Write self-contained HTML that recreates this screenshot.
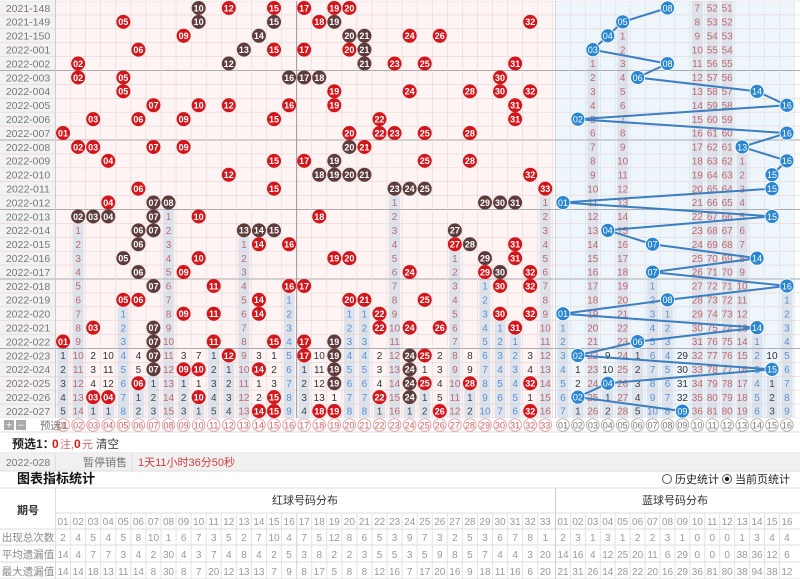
<!DOCTYPE html>
<html><head><meta charset="utf-8">
<style>
html,body{margin:0;padding:0;background:#fff;width:800px;height:579px;overflow:hidden}
svg{display:block;font-family:"Liberation Sans","Noto Sans CJK SC",sans-serif}
</style></head>
<body>
<svg id="s" width="800" height="579" viewBox="0 0 800 579" xmlns="http://www.w3.org/2000/svg">
<rect x="0" y="0" width="800" height="579" fill="#fff"/>
<g id="g"></g>
<g font-size="11" fill="#555">
<text x="40" y="429" font-size="10.5" fill="#777">预选1</text>
<text x="12" y="448" font-size="12" fill="#222" font-weight="bold">预选1：</text>
<text x="52" y="448" font-size="12" fill="#d01a1a" font-weight="bold">0</text>
<text x="60" y="448" font-size="11" fill="#d66">注,</text>
<text x="74" y="448" font-size="12" fill="#d01a1a" font-weight="bold">0</text>
<text x="82" y="448" font-size="11" fill="#d66">元</text>
<text x="96" y="448" font-size="11.5" fill="#333">清空</text>
<text x="28" y="466" font-size="10.5" fill="#777" text-anchor="middle">2022-028</text>
<text x="105" y="466" font-size="11" fill="#777" text-anchor="middle">暂停销售</text>
<text x="138" y="466" font-size="11" fill="#d04040">1天11小时36分50秒</text>
<text x="17" y="483" font-size="13" fill="#111" font-weight="bold">图表指标统计</text>
<text x="675" y="483" font-size="11" fill="#222">历史统计</text>
<text x="735" y="483" font-size="11" fill="#222">当前页统计</text>
<text x="28" y="514" font-size="11" fill="#333" font-weight="bold" text-anchor="middle">期号</text>
<text x="305" y="504" font-size="11" fill="#333" text-anchor="middle">红球号码分布</text>
<text x="675" y="504" font-size="11" fill="#333" text-anchor="middle">蓝球号码分布</text>
<text x="28" y="541" font-size="10.5" fill="#888" text-anchor="middle">出现总次数</text>
<text x="28" y="558" font-size="10.5" fill="#888" text-anchor="middle">平均遗漏值</text>
<text x="28" y="575" font-size="10.5" fill="#888" text-anchor="middle">最大遗漏值</text>
</g>
</svg>
<script>
(function(){
var NS="http://www.w3.org/2000/svg",g=document.getElementById("g");
function el(t,a,txt){var e=document.createElementNS(NS,t);for(var k in a)e.setAttribute(k,a[k]);if(txt!=null)e.textContent=txt;g.appendChild(e);return e;}
var R=["10d 12 15 17 19 20","05 10d 15d 18 19d 32","09 14d 20d 21d 24 26","06 13d 15 17 20 21d","02 12d 21d 23 25 31","02 05 16d 17d 18d 30","05 19 24 28 30 32","07 10 12 16 19 31","03 06 09 15 22 31","01 20 22 23 25 28","02 03 07 09 20d 21","04 15 17 19d 25 28","12 18d 19d 20d 21d 32","06 15 23d 24d 25d 33","04 07d 08d 29d 30d 31d","02d 03d 04d 07d 10 18","06d 07d 13d 14d 15d 27d","06d 14 16 27 28d 31","05d 10 19 20 29d 31","06d 09 24 29 30d 32","07d 11 16 17 30 32","05 06 14 20 21 25","09 11 14 22 30 32","03 07d 22 24 26 31","01 07d 11 15 17 19d","07d 12 17 19d 24d 25","07d 09 10 14 19d 24d","06 19d 24d 25 28 32","03 04 10 15 22 24d","14 15 18 19 26 32"];
var B=[8,5,4,3,8,6,14,16,2,16,13,16,15,15,1,15,4,7,14,7,16,8,1,14,6,2,15,4,2,9];
var L=["2021-148","2021-149","2021-150"];for(var i=1;i<=27;i++)L.push("2022-"+("00"+i).slice(-3));
var N=30,RH=13.9,T=1,RW=15.07,RX=55.5,BW=14.93,BX=555.5;
function ry(i){return T+i*RH;}function rc(c){return RX+(c-0.5)*RW;}function bc(c){return BX+(c-0.5)*BW;}
function pad(n){return ("0"+n).slice(-2);}
el("rect",{x:0,y:T,width:55.5,height:N*RH,fill:"#f2f2f2"});
el("rect",{x:RX,y:T,width:33*RW,height:N*RH,fill:"#fdf4f3"});
el("rect",{x:BX,y:T,width:16*BW,height:N*RH,fill:"#eef5fb"});
var hits=[],dark=[];
for(var i=0;i<N;i++){var h={},d={};R[i].split(" ").forEach(function(s){var n=parseInt(s,10);h[n]=1;if(s.indexOf("d")>0)d[n]=1;});hits.push(h);dark.push(d);}
function colInfo(isBlue,c,initPrev){
 var om=[],last=-1,cur=initPrev;
 for(var i=0;i<N;i++){var hit=isBlue?B[i]==c:hits[i][c];if(hit){cur=0;last=i;om.push(0);}else{cur++;om.push(cur);}}
 return {om:om,last:last};
}
function col(run){return run<=5?"#333":(run<=10?"#5b8fd0":"#c06868");}
function drawCol(isBlue,c,initPrev){
 var ci=colInfo(isBlue,c,initPrev),x=isBlue?bc(c):rc(c),w=isBlue?BW:RW;
 for(var i=0;i<N;i++){
  if(ci.om[i]==0)continue;var trailing=i>ci.last;
  if(trailing)el("rect",{x:x-w/2+2,y:ry(i),width:w-4,height:RH,fill:"#dde3ec"});
 }
 return ci;
}
var infos={r:[],b:[]};
for(var c=1;c<=33;c++)infos.r[c]=drawCol(false,c,3);
var binit={10:6,11:51,12:50};
for(var c=1;c<=16;c++)infos.b[c]=drawCol(true,c,binit[c]||3);
for(var i=0;i<=N;i++){var y=ry(i);var sep=(i%5==0&&i>0&&i<N);el("line",{x1:0,y1:y,x2:800,y2:y,stroke:sep?"#aaa":"#e6d3d3","stroke-width":sep?1:0.6});}
for(var c=0;c<=33;c++){var x=RX+c*RW;el("line",{x1:x,y1:T,x2:x,y2:ry(N)+14,stroke:c==16?"#999":"#ecd5d5","stroke-width":c==16?1:0.6});}
for(var c=0;c<=16;c++){var x=BX+c*BW;el("line",{x1:x,y1:T,x2:x,y2:ry(N)+14,stroke:c==0?"#bbb":"#d3e0ec","stroke-width":0.6});}
el("line",{x1:55.5,y1:0,x2:55.5,y2:ry(N)+14,stroke:"#ccc"});
for(var i=0;i<N;i++)el("text",{x:28,y:ry(i)+RH/2+3.8,"font-size":10.5,fill:"#777","text-anchor":"middle"},L[i]);
function nums(isBlue,c,ci){
 var x=isBlue?bc(c):rc(c);
 for(var i=0;i<N;i++){if(ci.om[i]==0)continue;var trailing=i>ci.last;if(!(trailing||i>=N-5))continue;
  var f="#333";
  if(trailing){var t=ci.om[N-1];f=t<=5?"#444":(t<=10?"#5b8fd0":"#c06868");}
  el("text",{x:x,y:ry(i)+RH/2+3.6,"font-size":10,fill:f,"text-anchor":"middle"},ci.om[i]);}
}
for(var c=1;c<=33;c++)nums(false,c,infos.r[c]);
for(var c=1;c<=16;c++)nums(true,c,infos.b[c]);
var pts=[];for(var i=0;i<N;i++)pts.push(bc(B[i]).toFixed(1)+","+(ry(i)+RH/2).toFixed(1));
el("polyline",{points:pts.join(" "),fill:"none",stroke:"#3a7fc2","stroke-width":2});
for(var i=0;i<N;i++){var cy=ry(i)+RH/2;
 for(var k in hits[i]){var n=+k,cx=rc(n);
  el("circle",{cx:cx,cy:cy,r:7,fill:dark[i][n]?"#5e3c3c":"#d2161b"});
  el("text",{x:cx,y:cy+3.3,"font-size":9,fill:"#fff","text-anchor":"middle","font-weight":"bold"},pad(n));}
 var bx=bc(B[i]);el("circle",{cx:bx,cy:cy,r:7,fill:"#2a86d0",stroke:"#fff","stroke-width":0.8});
 el("text",{x:bx,y:cy+3.3,"font-size":9,fill:"#fff","text-anchor":"middle"},pad(B[i]));
}
var py=ry(N),pc=py+7;
el("rect",{x:0,y:py,width:800,height:14,fill:"#fff"});
el("line",{x1:0,y1:py+14,x2:800,y2:py+14,stroke:"#ddd"});
el("rect",{x:4,y:pc-5,width:10,height:10,fill:"#aaa"});el("rect",{x:16,y:pc-5,width:10,height:10,fill:"#aaa"});
el("text",{x:9,y:pc+3.5,"font-size":10,fill:"#fff","text-anchor":"middle"},"+");el("text",{x:21,y:pc+3.5,"font-size":10,fill:"#fff","text-anchor":"middle"},"−");
for(var c=1;c<=33;c++){el("circle",{cx:rc(c),cy:pc,r:6.3,fill:"#fff",stroke:"#e29a9a","stroke-width":0.9});el("text",{x:rc(c),y:pc+3.3,"font-size":9,fill:"#d06060","text-anchor":"middle"},pad(c));}
for(var c=1;c<=16;c++){el("circle",{cx:bc(c),cy:pc,r:6.3,fill:"#fff",stroke:"#aaa","stroke-width":0.9});el("text",{x:bc(c),y:pc+3.3,"font-size":9,fill:"#777","text-anchor":"middle"},pad(c));}
el("line",{x1:0,y1:453,x2:800,y2:453,stroke:"#ddd"});
el("rect",{x:0,y:454,width:800,height:17,fill:"#f0f0f0"});
el("line",{x1:55.5,y1:454,x2:55.5,y2:471,stroke:"#ddd"});el("line",{x1:132,y1:454,x2:132,y2:471,stroke:"#ddd"});
el("line",{x1:0,y1:471,x2:800,y2:471,stroke:"#ddd"});
el("circle",{cx:667,cy:479,r:4.5,fill:"#fff",stroke:"#555"});
el("circle",{cx:727,cy:479,r:4.5,fill:"#fff",stroke:"#555"});el("circle",{cx:727,cy:479,r:2.2,fill:"#222"});
var ty=[488,513,529,545,562,579];
ty.forEach(function(y){el("line",{x1:(y==513?55.5:0),y1:y,x2:800,y2:y,stroke:"#ddd"});});
el("line",{x1:55.5,y1:488,x2:55.5,y2:579,stroke:"#ddd"});el("line",{x1:BX,y1:488,x2:BX,y2:579,stroke:"#ccc"});
el("line",{x1:RX+16*RW,y1:513,x2:RX+16*RW,y2:579,stroke:"#999"});
for(var c=1;c<33;c++)el("line",{x1:RX+c*RW,y1:513,x2:RX+c*RW,y2:579,stroke:"#e3e3e3"});
for(var c=1;c<16;c++)el("line",{x1:BX+c*BW,y1:513,x2:BX+c*BW,y2:579,stroke:"#e3e3e3"});
var S=[
"2 4 5 4 5 8 10 1 6 7 3 5 2 7 10 4 7 5 12 8 6 5 3 9 7 3 2 5 3 6 7 8 1",
"14 4 7 7 3 4 2 30 4 3 7 4 8 4 2 5 3 8 2 2 3 5 5 3 5 9 8 5 7 4 4 3 20",
"14 14 18 13 11 14 8 30 8 7 20 12 13 13 7 9 8 17 5 8 8 12 16 7 17 20 16 9 18 11 16 6 20"];
var SB=["2 3 1 3 1 2 2 3 1 0 0 0 1 3 4 4","14 16 4 12 25 20 11 6 29 0 0 0 38 36 12 6","21 31 26 14 28 22 20 16 29 36 81 80 38 94 38 12"];
var yc=[525,541,558,575];
for(var c=1;c<=33;c++)el("text",{x:rc(c),y:yc[0],"font-size":10,fill:"#999","text-anchor":"middle"},pad(c));
for(var c=1;c<=16;c++)el("text",{x:bc(c),y:yc[0],"font-size":10,fill:"#999","text-anchor":"middle"},pad(c));
for(var r=0;r<3;r++){var a=S[r].split(" "),b=SB[r].split(" ");
 for(var c=0;c<33;c++)el("text",{x:rc(c+1),y:yc[r+1],"font-size":10,fill:"#999","text-anchor":"middle"},a[c]);
 for(var c=0;c<16;c++)el("text",{x:bc(c+1),y:yc[r+1],"font-size":10,fill:"#999","text-anchor":"middle"},b[c]);}
})();
</script>
</body></html>
